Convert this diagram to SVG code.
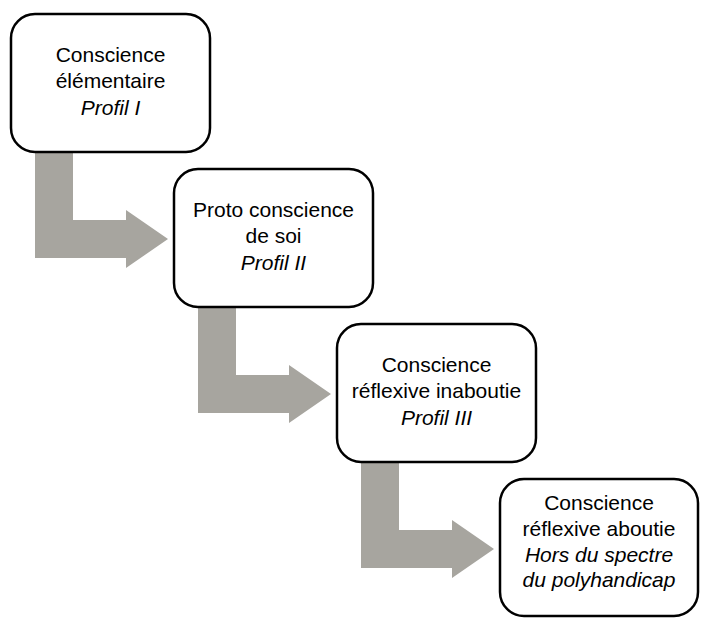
<svg xmlns="http://www.w3.org/2000/svg" width="710" height="634" viewBox="0 0 710 634">
<style>
.box{fill:#fff;stroke:#000;stroke-width:2.5}
.arr{fill:#a7a59f;stroke:none}
text{font-family:"Liberation Sans",Arial,sans-serif;font-size:21px;fill:#000;text-anchor:middle}
.it{font-style:italic}
</style>
<rect width="710" height="634" fill="#fff"/>
<g id="connectors">
<path class="arr" d="M35,152 H73 V220 H126 V210 L168,239 L126,268 V258 H35 Z"/>
<path class="arr" d="M198,307 H236 V375 H289 V365 L331,394 L289,423 V413 H198 Z"/>
<path class="arr" d="M361,462 H399 V530 H452 V520 L494,549 L452,578 V568 H361 Z"/>
</g>
<g id="node1">
<rect class="box" x="11" y="14" width="199" height="138" rx="24"/>
<text x="110.5" y="62">Conscience</text>
<text x="110.5" y="88">élémentaire</text>
<text class="it" x="110.5" y="115">Profil I</text>
</g>
<g id="node2">
<rect class="box" x="174" y="169" width="199" height="138" rx="24"/>
<text x="273.5" y="217">Proto conscience</text>
<text x="273.5" y="243">de soi</text>
<text class="it" x="273.5" y="270">Profil II</text>
</g>
<g id="node3">
<rect class="box" x="337" y="324" width="199" height="138" rx="24"/>
<text x="436.5" y="372">Conscience</text>
<text x="436.5" y="398">réflexive inaboutie</text>
<text class="it" x="436.5" y="425">Profil III</text>
</g>
<g id="node4">
<rect class="box" x="500" y="479" width="198" height="137" rx="24"/>
<text x="599" y="510">Conscience</text>
<text x="599" y="536">réflexive aboutie</text>
<text class="it" x="599" y="562">Hors du spectre</text>
<text class="it" x="599" y="587">du polyhandicap</text>
</g>
</svg>
